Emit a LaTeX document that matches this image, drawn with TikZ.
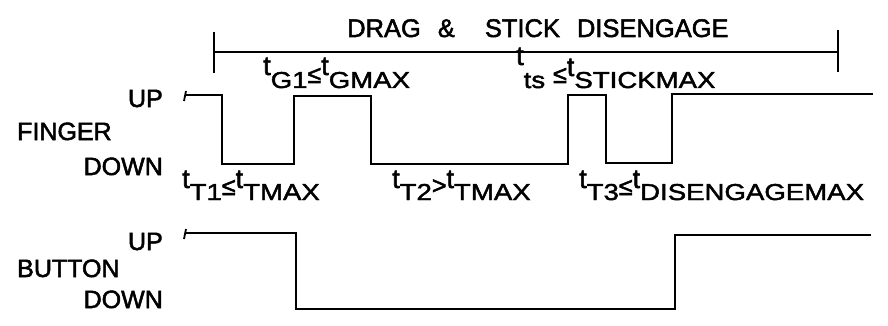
\documentclass[tikz,border=0pt]{standalone}
\usepackage{fontspec}
\setmainfont[FakeBold=2]{Liberation Sans}
\newfontfamily\widefont[FakeStretch=1.2,FakeBold=2]{Liberation Sans}
\newcommand\tch[1]{\raisebox{#1pt}{\fontsize{27}{27}\selectfont t}}
\newcommand\tsb[1]{{\widefont\fontsize{23}{23}\selectfont #1}}
\newcommand\rel[2]{\raisebox{#1pt}{\fontsize{25}{25}\selectfont #2}}
\begin{document}
\begin{tikzpicture}[x=1pt,y=-1pt,
  sig/.style={line width=1.8pt,line join=miter},
  lab/.style={inner sep=0pt,font=\fontsize{25}{25}\selectfont},
  tlab/.style={inner sep=0pt,anchor=base west}]
\useasboundingbox (0,0) rectangle (888,326);
% title bracket
\coordinate (bl) at (214,52);
\coordinate (br) at (838,52);
\draw[sig] (bl) -- (br);
\draw[sig] (214,32) -- (214,73);
\draw[sig] (838,30) -- (838,72);
\node[lab,anchor=base west,font=\fontsize{25.5}{25.5}\selectfont] (title) at (347,37) {DRAG\hspace{17pt}\&\hspace{30pt}STICK\hspace{17pt}DISENGAGE};
% finger labels
\node[lab,anchor=base east] (fup) at (163,107) {UP};
\node[lab,anchor=base west] (fing) at (17,140) {FINGER};
\node[lab,anchor=base east] (fdown) at (163,175) {DOWN};
% button labels
\node[lab,anchor=base east] (bup) at (163,250) {UP};
\node[lab,anchor=base west] (butt) at (17,277) {BUTTON};
\node[lab,anchor=base east] (bdown) at (163,308) {DOWN};
% finger waveform
\draw[sig] (184,101) -- (186,91);
\draw[sig] (185,95) -- (222,95) -- (222,164) -- (294,164) -- (294,96) -- (371,96)
  -- (371,164) -- (568,164) -- (568,95) -- (606,95) -- (606,163) -- (672,163)
  -- (672,94) -- (873,94);
% button waveform
\draw[sig] (184,239) -- (186,229);
\draw[sig] (185,233) -- (296,233) -- (296,309) -- (675,309) -- (675,235) -- (871,235);
% timing labels
\node[tlab] (g1) at (263,88) {\tch{13}\tsb{G1}\rel{5}{≤}\tch{13}\tsb{GMAX}};
\node[tlab] (ts) at (516,88) {\tch{23}\tsb{ts}\hspace{8pt}\rel{5}{≤}\tch{12}\tsb{STICKMAX}};
\node[tlab] (t1) at (182,200) {\tch{12}\tsb{T1}\rel{5}{≤}\tch{12}\tsb{TMAX}};
\node[tlab] (t2) at (392,200) {\tch{12}\tsb{T2}\rel{6}{>}\tch{12}\tsb{TMAX}};
\node[tlab] (t3) at (579,200) {\tch{12}\tsb{T3}\rel{5}{≤}\tch{12}\tsb{DISENGAGEMAX}};
\end{tikzpicture}
\end{document}
